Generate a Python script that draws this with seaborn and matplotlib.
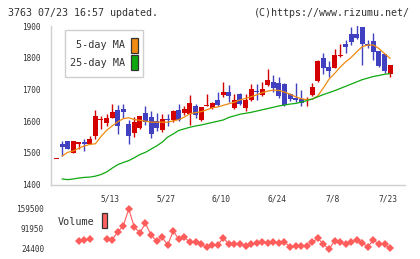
import numpy as np
import pandas as pd
import matplotlib
matplotlib.use('Agg')
import matplotlib.pyplot as plt
import seaborn as sns
from matplotlib.patches import Rectangle
from matplotlib.transforms import blended_transform_factory

sns.set_style('white')
plt.rcParams['font.family'] = ['DejaVu Sans Mono', 'DejaVu Sans']

# ---------------- data ----------------
opens = [1481, 1529, 1537, 1499, 1529, 1536, 1527, 1555, 1605, 1594,
         1611, 1634, 1637, 1590, 1562, 1579, 1627, 1613, 1600, 1573,
         1608, 1603, 1636, 1626, 1624, 1647, 1605, 1649, 1643, 1668,
         1682, 1691, 1642, 1685, 1642, 1666, 1695, 1682, 1713, 1724,
         1719, 1717, 1687, 1673, 1669, 1668, 1684, 1727, 1800, 1771,
         1769, 1807, 1843, 1875, 1875, 1898, 1843, 1853, 1821, 1811,
         1748]
highs = [1482, 1539, 1539, 1539, 1534, 1545, 1555, 1634, 1618, 1624,
         1653, 1650, 1653, 1603, 1613, 1615, 1647, 1632, 1626, 1624,
         1624, 1636, 1655, 1648, 1682, 1655, 1645, 1685, 1662, 1692,
         1724, 1713, 1687, 1688, 1687, 1716, 1716, 1722, 1766, 1745,
         1738, 1719, 1690, 1721, 1697, 1676, 1719, 1792, 1814, 1789,
         1829, 1842, 1856, 1898, 1903, 1898, 1856, 1877, 1821, 1811,
         1777]
lows = [1480, 1489, 1511, 1499, 1514, 1505, 1527, 1545, 1576, 1584,
        1611, 1560, 1611, 1529, 1550, 1575, 1587, 1548, 1570, 1567,
        1585, 1598, 1600, 1620, 1587, 1610, 1600, 1647, 1640, 1648,
        1676, 1660, 1638, 1650, 1632, 1664, 1666, 1678, 1710, 1692,
        1673, 1648, 1665, 1660, 1648, 1647, 1680, 1725, 1748, 1738,
        1767, 1801, 1816, 1840, 1860, 1777, 1830, 1792, 1770, 1752,
        1739]
closes = [1482, 1518, 1513, 1539, 1534, 1527, 1545, 1618, 1607, 1611,
          1628, 1584, 1629, 1553, 1597, 1615, 1597, 1560, 1580, 1608,
          1604, 1631, 1603, 1640, 1657, 1621, 1645, 1651, 1657, 1650,
          1691, 1678, 1668, 1655, 1668, 1700, 1692, 1703, 1729, 1705,
          1678, 1650, 1671, 1666, 1657, 1670, 1708, 1789, 1768, 1759,
          1808, 1809, 1833, 1850, 1863, 1842, 1837, 1819, 1774, 1759,
          1777]
ma5 = [np.nan, 1490, 1502, 1506, 1515, 1522, 1527, 1529, 1552, 1571,
       1585, 1598, 1608, 1611, 1605, 1603, 1600, 1597, 1597, 1597,
       1597, 1601, 1605, 1613, 1624, 1627, 1630, 1636, 1642, 1645,
       1650, 1655, 1660, 1667, 1672, 1677, 1683, 1690, 1695, 1698,
       1697, 1692, 1685, 1677, 1671, 1668, 1669, 1680, 1705, 1732,
       1750, 1770, 1787, 1801, 1819, 1835, 1840, 1840, 1829, 1813,
       1798]
ma25 = [np.nan, 1418, 1416, 1418, 1421, 1423, 1424, 1427, 1432, 1440,
        1452, 1463, 1470, 1476, 1485, 1495, 1502, 1512, 1522, 1534,
        1550, 1560, 1571, 1576, 1581, 1585, 1588, 1592, 1596, 1600,
        1604, 1612, 1617, 1622, 1625, 1628, 1632, 1636, 1640, 1644,
        1648, 1651, 1654, 1656, 1660, 1665, 1670, 1677, 1684, 1690,
        1696, 1703, 1710, 1717, 1724, 1731, 1736, 1741, 1744, 1748,
        1750]
volume = [np.nan, np.nan, np.nan, np.nan, 52400, 54800, 57100, np.nan, np.nan, 57100,
          54800, 82800, 102000, 159500, 97700, 79500, 111200, 71700, 51400, 63900,
          37900, 85200, 57100, 63900, 47000, 49100, 40300, 30100, 37900, 37900,
          62600, 40300, 40300, 41300, 35500, 40300, 43600, 47000, 43600, 47000,
          43600, 47000, 32200, 34400, 34400, 35500, 47000, 60500, 41300, 23400,
          51400, 47000, 40300, 49100, 54800, 44700, 32200, 54800, 40300, 40300,
          26700]
date_labels = ['5/13', '5/27', '6/10', '6/24', '7/8', '7/23']
date_index = [10, 20, 30, 40, 50, 60]
price_ticks = [1400, 1500, 1600, 1700, 1800, 1900]
vol_ticks = [24400, 91950, 159500]
header_left = '3763 07/23 16:57 updated.'
header_right = '(C)https://www.rizumu.net/'
legend_labels = ['5-day MA', '25-day MA']

# ---------------- styling ----------------
RED = '#d40000'
BLUE = '#4040c0'
ORANGE = '#f08a10'
GREEN = '#10a810'
VOLC = '#ff5c5c'
AXC = '#cfcfcf'
TXT = '#333333'

W, H = 420, 259
fig = plt.figure(figsize=(W / 100, H / 100), dpi=100)
fig.patch.set_facecolor('white')


def rect(x0, y0, x1, y1):
    return [x0 / W, 1 - y1 / H, (x1 - x0) / W, (y1 - y0) / H]


PX = 5.56          # pixels per day
X0 = 56.5          # pixel of first candle
XL = (50.7 - X0) / PX
XR = (405 - X0) / PX

ax = fig.add_axes(rect(50.7, 26, 405, 184.7))
ax.set_xlim(XL, XR)
ax.set_ylim(1400, 1900)

idx = np.arange(len(opens))
for i in idx:
    o, h, l, c = opens[i], highs[i], lows[i], closes[i]
    col = RED if c >= o else BLUE
    ax.vlines(i, l, h, color=col, lw=1, zorder=2)
    bot = min(o, c)
    hgt = max(abs(c - o), 3)
    ax.bar(i, hgt, bottom=bot, width=0.9, color=col, lw=0, zorder=3)

sns.lineplot(x=idx[1:], y=np.array(ma5)[1:], color=ORANGE, lw=0.9, ax=ax, zorder=4)
sns.lineplot(x=idx[1:], y=np.array(ma25)[1:], color=GREEN, lw=0.9, ax=ax, zorder=4)

for s in ['top', 'right']:
    ax.spines[s].set_visible(False)
for s in ['left', 'bottom']:
    ax.spines[s].set_color(AXC)
    ax.spines[s].set_linewidth(1)
ax.set_yticks(price_ticks)
ax.set_yticklabels([str(t) for t in price_ticks])
ax.set_xticks(np.linspace(XL, XR, 12))
ax.set_xticklabels([])
ax.tick_params(axis='y', direction='inout', length=6, width=1, color=AXC,
               labelsize=5.6, labelcolor=TXT, pad=4)
ax.tick_params(axis='x', direction='inout', length=5.5, width=1, color=AXC)
ax.set_xlabel('')
ax.set_ylabel('')
ax.grid(False)

tr = blended_transform_factory(ax.transData, fig.transFigure)
for lab, di in zip(date_labels, date_index):
    ax.text(di - 0.35, 1 - 199 / H, lab, transform=tr, ha='center', va='center',
            fontsize=5.7, color=TXT, clip_on=False)

# legend box
fig.add_artist(Rectangle((65 / W, 1 - 77.3 / H), 78.3 / W, 47.3 / H,
                         transform=fig.transFigure, facecolor='white',
                         edgecolor=AXC, lw=1, zorder=5))
for lab, col, yc in zip(legend_labels, [ORANGE, GREEN], [45.5, 62.5]):
    fig.text(125 / W, 1 - yc / H, lab, ha='right', va='center', fontsize=7.3,
             color=TXT, zorder=6)
    fig.add_artist(Rectangle((131 / W, 1 - (yc + 7.5) / H), 6.7 / W, 15 / H,
                             transform=fig.transFigure, facecolor=col,
                             edgecolor='#333333', lw=0.9, zorder=6))

# volume panel
axv = fig.add_axes(rect(50.7, 205, 405, 253))
axv.set_xlim(XL, XR)
v0 = 24400 - 4 / 40 * 135100
v1 = 24400 + 44 / 40 * 135100
axv.set_ylim(v0, v1)
vol = np.array(volume, dtype=float)
seg = np.cumsum(np.isnan(vol))
dfv = pd.DataFrame({'i': idx, 'v': vol, 'seg': seg}).dropna()
sns.lineplot(data=dfv, x='i', y='v', units='seg', estimator=None, color=VOLC,
             lw=0.8, marker='D', markersize=3.8, markeredgewidth=0, ax=axv)
for s in axv.spines.values():
    s.set_visible(False)
axv.set_xticks([])
axv.set_yticks(vol_ticks)
axv.set_yticklabels([str(t) for t in vol_ticks])
axv.tick_params(axis='y', length=0, labelsize=5.6, labelcolor=TXT, pad=4.8)
axv.set_xlabel('')
axv.set_ylabel('')
axv.patch.set_alpha(0)

fig.text(58 / W, 1 - 222 / H, 'Volume', ha='left', va='center', fontsize=7.3, color=TXT)
fig.add_artist(Rectangle((101.7 / W, 1 - 228.3 / H), 5.6 / W, 15 / H,
                         transform=fig.transFigure, facecolor='#ff6060',
                         edgecolor='#333333', lw=0.9, zorder=6))

fig.text(8 / W, 1 - 12.5 / H, header_left, ha='left', va='center', fontsize=7.2, color=TXT)
fig.text(410 / W, 1 - 12.5 / H, header_right, ha='right', va='center', fontsize=7.2, color=TXT)

fig.savefig('out.png', dpi=100, facecolor='white')
